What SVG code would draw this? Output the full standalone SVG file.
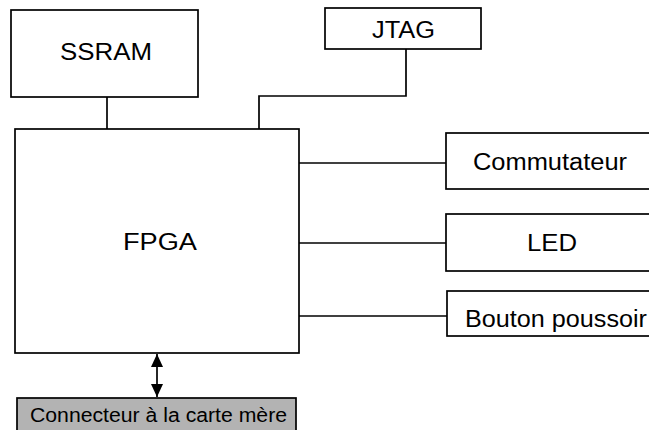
<svg xmlns="http://www.w3.org/2000/svg" width="649" height="430" viewBox="0 0 649 430">
  <style>
    .box { fill: #ffffff; stroke: #000000; stroke-width: 1.7; }
    .grey { fill: #b3b3b3; stroke: #000000; stroke-width: 1.7; }
    .wire { fill: none; stroke: #000000; stroke-width: 1.7; }
    .lbl { font-family: "Liberation Sans", Arial, sans-serif; font-size: 23px; fill: #000000; }
    .small { font-size: 20px; }
  </style>
  <defs>
    <marker id="head" viewBox="0 0 13 12" refX="13" refY="6" markerWidth="13" markerHeight="12" markerUnits="userSpaceOnUse" orient="auto-start-reverse">
      <path d="M0,0 L13,6 L0,12 Z" fill="#000000"/>
    </marker>
  </defs>

  <!-- connectors -->
  <g id="connectors">
    <path class="wire" d="M107,97 V129"/>
    <path class="wire" d="M406,49 V96 H259 V129"/>
    <path class="wire" d="M299,163 H446"/>
    <path class="wire" d="M299,243 H446"/>
    <path class="wire" d="M299,316 H447"/>
    <path class="wire" d="M157,354 V397" stroke-width="3" marker-start="url(#head)" marker-end="url(#head)"/>
  </g>

  <g id="ssram">
    <rect class="box" x="11" y="10" width="187" height="87"/>
    <text class="lbl" x="106" y="60" text-anchor="middle" textLength="92" lengthAdjust="spacingAndGlyphs">SSRAM</text>
  </g>

  <g id="jtag">
    <rect class="box" x="325" y="8" width="156" height="41"/>
    <text class="lbl" x="403.5" y="38" text-anchor="middle" textLength="63" lengthAdjust="spacingAndGlyphs">JTAG</text>
  </g>

  <g id="fpga">
    <rect class="box" x="15" y="129" width="284" height="224"/>
    <text class="lbl" x="160" y="250" text-anchor="middle" textLength="74" lengthAdjust="spacingAndGlyphs">FPGA</text>
  </g>

  <g id="commutateur">
    <rect class="box" x="446" y="133" width="210" height="56"/>
    <text class="lbl" x="473" y="170" textLength="154" lengthAdjust="spacingAndGlyphs">Commutateur</text>
  </g>

  <g id="led">
    <rect class="box" x="446" y="214" width="210" height="57"/>
    <text class="lbl" x="527" y="250.5" textLength="50" lengthAdjust="spacingAndGlyphs">LED</text>
  </g>

  <g id="bouton">
    <rect class="box" x="447" y="291" width="210" height="45"/>
    <text class="lbl" x="465" y="327" textLength="182" lengthAdjust="spacingAndGlyphs">Bouton poussoir</text>
  </g>

  <g id="connecteur">
    <rect class="grey" x="17" y="398" width="279" height="40"/>
    <text class="lbl small" x="30" y="421.5" textLength="257" lengthAdjust="spacingAndGlyphs">Connecteur à la carte mère</text>
  </g>
</svg>
